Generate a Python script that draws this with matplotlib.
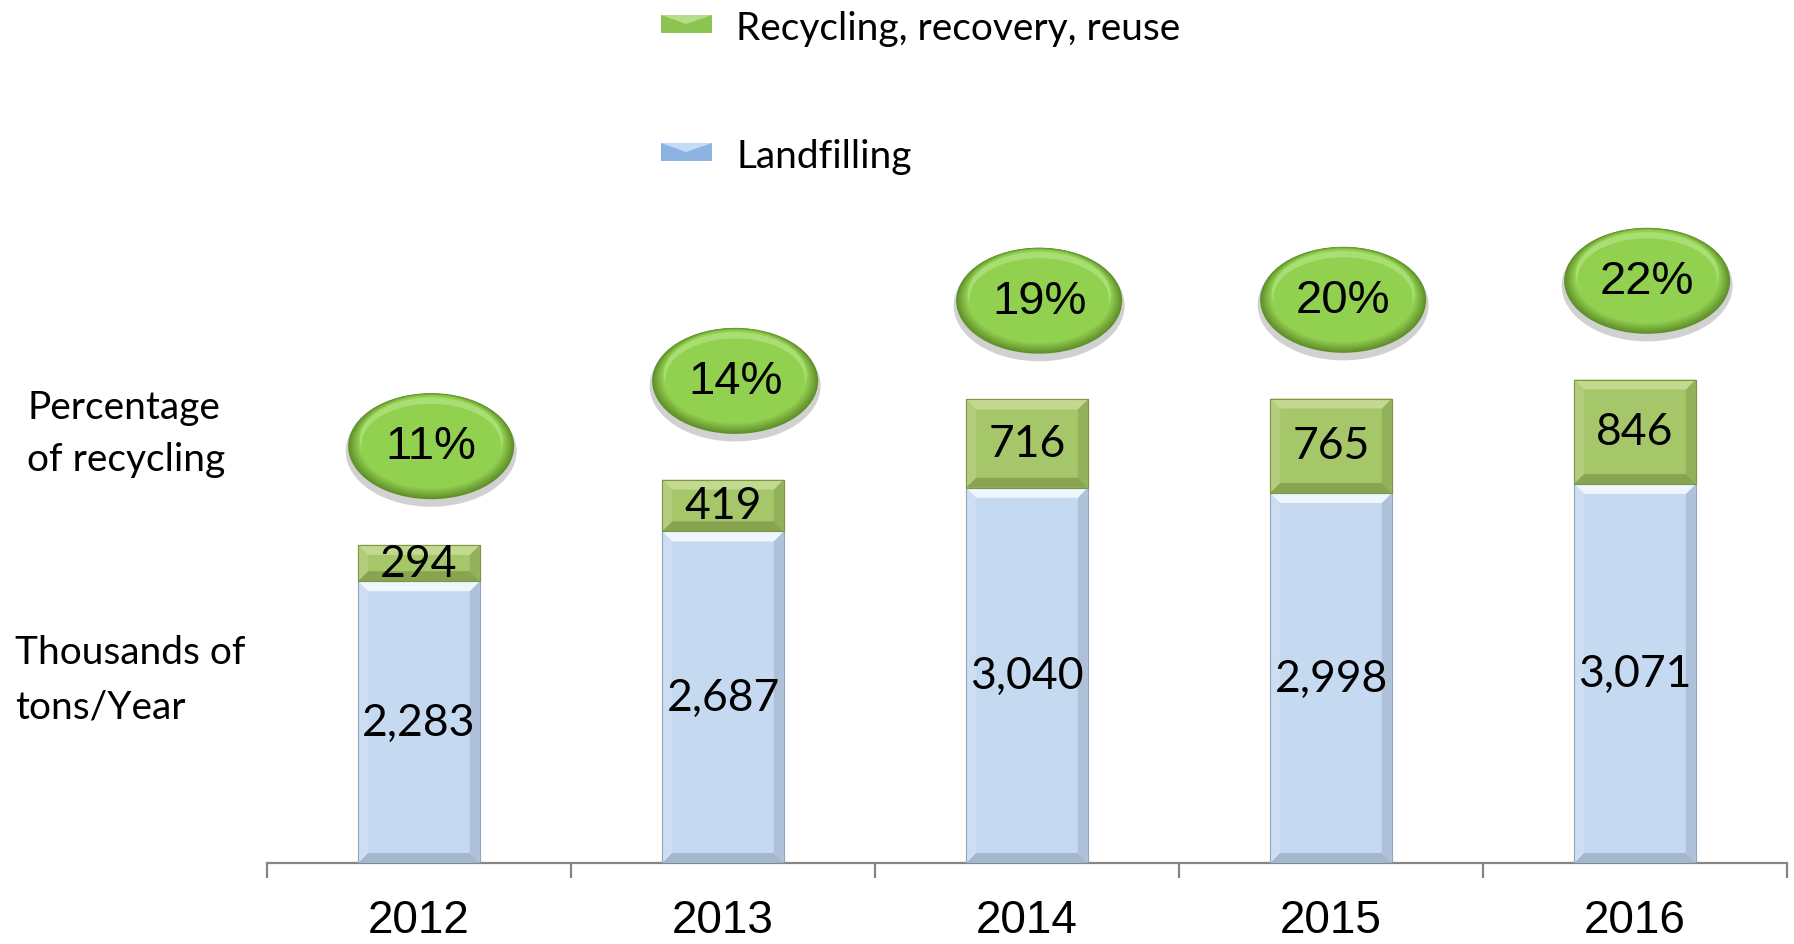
import numpy as np
import matplotlib
matplotlib.use('Agg')
import matplotlib.pyplot as plt
from matplotlib.patches import Ellipse, Polygon, Rectangle
from matplotlib.colors import to_rgb

# data
years = ['2012', '2013', '2014', '2015', '2016']
landfill = [2283, 2687, 3040, 2998, 3071]
recycling = [294, 419, 716, 765, 846]
recycle_pct = ['11%', '14%', '19%', '20%', '22%']

label_font = 'Lato'
num_font = 'Liberation Sans'

fig = plt.figure(figsize=(17.94, 9.45), dpi=100)
ax = fig.add_axes([267 / 1794, 81 / 945, 1520 / 1794, 864 / 945])
ax.set_xlim(-0.5, 4.5)
ax.set_ylim(0, 7000)

x = np.arange(len(years))
width = 0.4

bars_l = ax.bar(x, landfill, width, color='#C5D9F1', edgecolor='#93A7BF', linewidth=0.8, zorder=2)
bars_r = ax.bar(x, recycling, width, bottom=landfill, color='#A6C66A', edgecolor='#7C9646',
                linewidth=0.8, zorder=2)

# bevel size in data units (about 10 px)
bx = 10 / 304
by = 10 / (864 / 7000)


def bevel(rect, top, left, right, bottom):
    x0 = rect.get_x()
    x1 = x0 + rect.get_width()
    y0 = rect.get_y()
    y1 = y0 + rect.get_height()
    b = min(by, (y1 - y0) / 3)
    pts = {
        'top': [(x0, y1), (x1, y1), (x1 - bx, y1 - b), (x0 + bx, y1 - b)],
        'bottom': [(x0, y0), (x1, y0), (x1 - bx, y0 + b), (x0 + bx, y0 + b)],
        'left': [(x0, y0), (x0, y1), (x0 + bx, y1 - b), (x0 + bx, y0 + b)],
        'right': [(x1, y0), (x1, y1), (x1 - bx, y1 - b), (x1 - bx, y0 + b)],
    }
    for side, col in (('left', left), ('right', right), ('top', top), ('bottom', bottom)):
        ax.add_patch(Polygon(pts[side], closed=True, facecolor=col, edgecolor='none', zorder=3))
    ax.add_patch(Rectangle((x0, y0), x1 - x0, y1 - y0, facecolor='none',
                           edgecolor=rect.get_edgecolor(), linewidth=0.8, zorder=4))


for r in bars_l:
    bevel(r, '#EEF6FE', '#CDDEF3', '#AEC1D8', '#A3B7CF')
for r in bars_r:
    bevel(r, '#C2D98F', '#B2CE7C', '#93B05B', '#88A451')

# values inside segments
for i in range(len(years)):
    ax.text(x[i], landfill[i] / 2, f'{landfill[i]:,}', ha='center', va='center',
            fontsize=32, family=label_font, zorder=5)
    ax.text(x[i], landfill[i] + recycling[i] / 2, f'{recycling[i]:,}', ha='center', va='center',
            fontsize=32, family=label_font, zorder=5)


def mix(c1, c2, t):
    a = np.array(to_rgb(c1))
    b = np.array(to_rgb(c2))
    return tuple(a + (b - a) * t)


# percentage bubbles
ew = 166 / 304
eh = 106 / (864 / 7000)
gap = 800
for i in range(len(years)):
    cx = x[i] + 0.04
    cy = landfill[i] + recycling[i] + gap
    ax.add_patch(Ellipse((cx, cy - 40), ew * 1.03, eh * 1.05, facecolor='#000000', alpha=0.18,
                         edgecolor='none', zorder=5))
    n = 14
    for k in range(n):
        t = k / (n - 1)
        s = 1 - 0.16 * t
        col = mix('#5F8E2A', '#92D050', min(1, t * 1.3))
        ax.add_patch(Ellipse((cx, cy + 0.05 * eh * t), ew * s, eh * s, facecolor=col,
                             edgecolor='none', zorder=6))
    ax.add_patch(Ellipse((cx, cy + 0.06 * eh), ew * 0.86, eh * 0.80, facecolor='#A9DE74',
                         edgecolor='none', zorder=6))
    ax.add_patch(Ellipse((cx, cy + 0.02 * eh), ew * 0.84, eh * 0.76, facecolor='#92D050',
                         edgecolor='none', zorder=6))
    ax.text(cx, cy, recycle_pct[i], ha='center', va='center', fontsize=34,
            family=num_font, zorder=7)

# axis styling
for s in ('left', 'right', 'top'):
    ax.spines[s].set_visible(False)
ax.spines['bottom'].set_color('#868686')
ax.spines['bottom'].set_linewidth(1.6)
ax.set_yticks([])
ax.set_xticks(x)
ax.set_xticklabels(years, fontsize=33, family=num_font)
ax.tick_params(axis='x', which='major', length=0, pad=25)
ax.set_xticks(np.arange(-0.5, 5, 1), minor=True)
ax.tick_params(axis='x', which='minor', length=11, width=1.6, color='#868686')

# left side titles
fig.text(27 / 1794, 1 - 408 / 945, 'Percentage', fontsize=28, family=label_font, va='center')
fig.text(27 / 1794, 1 - 460 / 945, 'of recycling', fontsize=28, family=label_font, va='center')
fig.text(15 / 1794, 1 - 653 / 945, 'Thousands of', fontsize=28, family=label_font, va='center')
fig.text(15 / 1794, 1 - 708 / 945, 'tons/Year', fontsize=28, family=label_font, va='center')

# legend
legend_items = [('Recycling, recovery, reuse', '#8CC451', '#B6DD8A'),
                ('Landfilling', '#8DB3E2', '#C4DBF5')]
for j, (lab, c, hi) in enumerate(legend_items):
    ly = 25 + j * 128
    fig.patches.append(Rectangle((661 / 1794, 1 - (ly + 9) / 945), 51 / 1794, 18 / 945,
                                 transform=fig.transFigure, facecolor=c, edgecolor='none'))
    fig.patches.append(Polygon([(661 / 1794, 1 - ly / 945 + 9 / 945), (712 / 1794, 1 - ly / 945 + 9 / 945),
                                (686 / 1794, 1 - ly / 945)], closed=True,
                               transform=fig.transFigure, facecolor=hi, edgecolor='none'))
    fig.text(736 / 1794, 1 - (ly + 4) / 945, lab, fontsize=28, family=label_font, va='center')

fig.savefig('out.png', dpi=100)
